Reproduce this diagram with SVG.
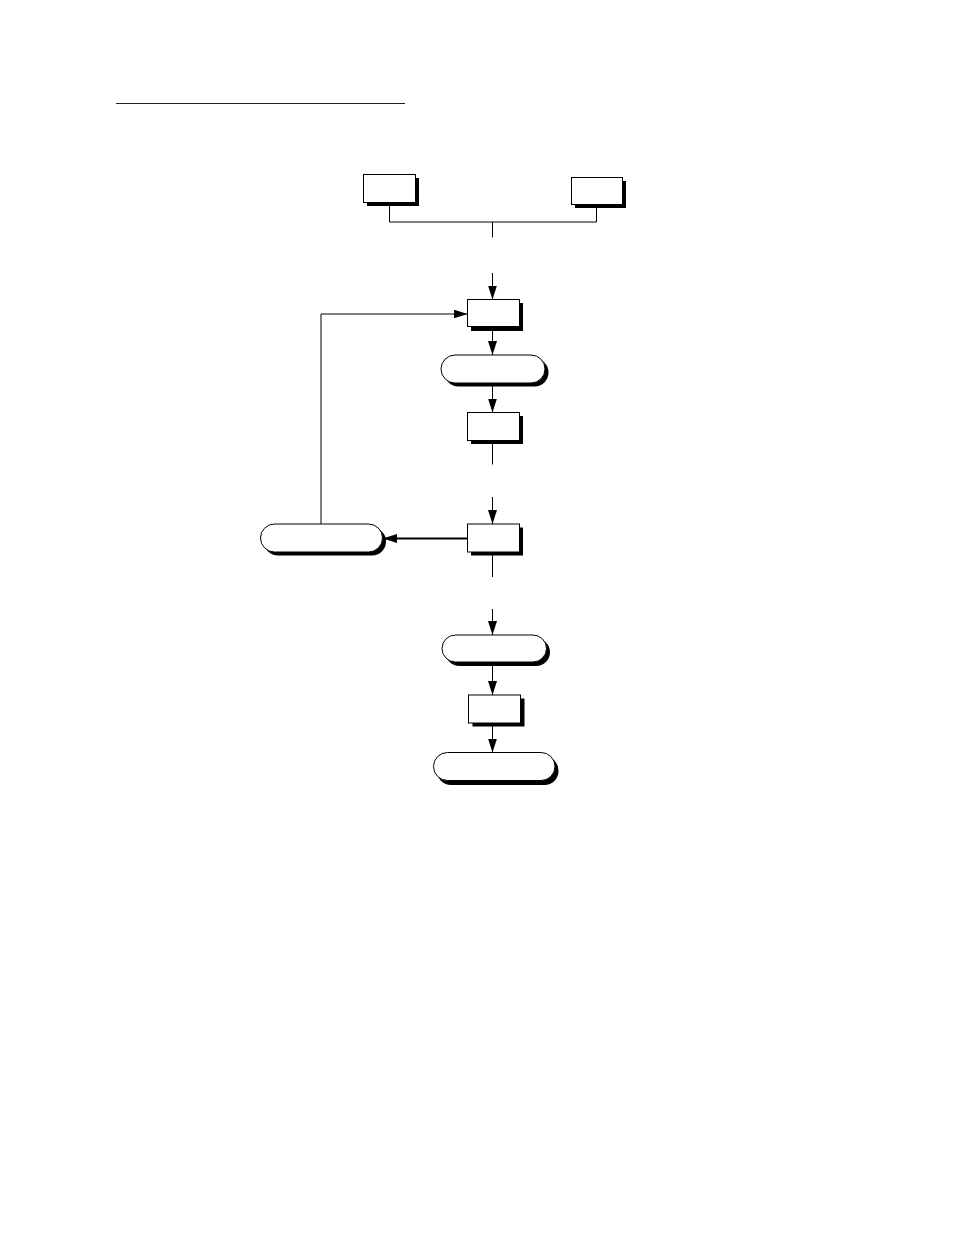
<svg xmlns="http://www.w3.org/2000/svg" width="954" height="1235" viewBox="0 0 954 1235">
<style>
.node{fill:#fff;stroke:#000;stroke-width:1}
.sh{fill:#000;stroke:none}
.ln{fill:none;stroke:#000;stroke-width:1}
.ar{fill:none;stroke:#000;stroke-width:1;marker-end:url(#ah)}
</style>
<defs>
<marker id="ah" markerUnits="userSpaceOnUse" markerWidth="14" markerHeight="10" refX="14" refY="4.5" orient="auto">
<path d="M0,0 L14,4.5 L0,9 z" fill="#000"/>
</marker>
</defs>
<rect width="954" height="1235" fill="#fff"/>
<line x1="116" y1="103.5" x2="405" y2="103.5" stroke="#222" stroke-width="1.2"/>
<g id="connectors">
<path class="ln" d="M389.5,202.5 V222 H596.5 V204.5"/>
<path class="ln" d="M492.5,222 V237.5"/>
<path class="ar" d="M492.5,273 V299.5"/>
<path class="ar" d="M321,524 V314 H467.5"/>
<path class="ar" d="M492.5,326.5 V355"/>
<path class="ar" d="M492.5,383 V412.5"/>
<path class="ln" d="M492.5,440.5 V464.5"/>
<path class="ar" d="M492.5,497 V524"/>
<path class="ar" d="M467.5,538.5 H383" style="stroke-width:2"/>
<path class="ln" d="M492.5,552 V577"/>
<path class="ar" d="M492.5,609 V635"/>
<path class="ar" d="M492.5,662 V695"/>
<path class="ar" d="M492.5,723 V752.5"/>
</g>
<g id="boxA"><rect class="sh" x="367" y="178" width="52" height="28"/><rect class="node" x="363.5" y="174.5" width="52" height="28"/></g>
<g id="boxB"><rect class="sh" x="575" y="181" width="51" height="27"/><rect class="node" x="571.5" y="177.5" width="51" height="27"/></g>
<g id="boxC"><rect class="sh" x="471" y="303" width="52" height="28"/><rect class="node" x="467.5" y="299.5" width="52" height="27"/></g>
<g id="pill1"><rect class="sh" x="444.5" y="358.5" width="104" height="28" rx="14"/><rect class="node" x="441" y="355" width="104" height="28" rx="14"/></g>
<g id="boxD"><rect class="sh" x="471" y="416" width="52" height="28"/><rect class="node" x="467.5" y="412.5" width="52" height="28"/></g>
<g id="boxE"><rect class="sh" x="471" y="527.5" width="52" height="28"/><rect class="node" x="467.5" y="524" width="52" height="28"/></g>
<g id="pill2"><rect class="sh" x="264" y="527.5" width="122" height="28" rx="14"/><rect class="node" x="260.5" y="524" width="122" height="28" rx="14"/></g>
<g id="pill3"><rect class="sh" x="445.5" y="638.5" width="104.5" height="27.5" rx="14"/><rect class="node" x="442" y="635" width="104.5" height="27" rx="13.5"/></g>
<g id="boxF"><rect class="sh" x="472.5" y="698.5" width="52" height="28"/><rect class="node" x="468.5" y="695" width="52" height="28"/></g>
<g id="pill4"><rect class="sh" x="437" y="756.5" width="121.5" height="28.5" rx="14"/><rect class="node" x="433.5" y="752.5" width="121.5" height="28" rx="14"/></g>
</svg>
